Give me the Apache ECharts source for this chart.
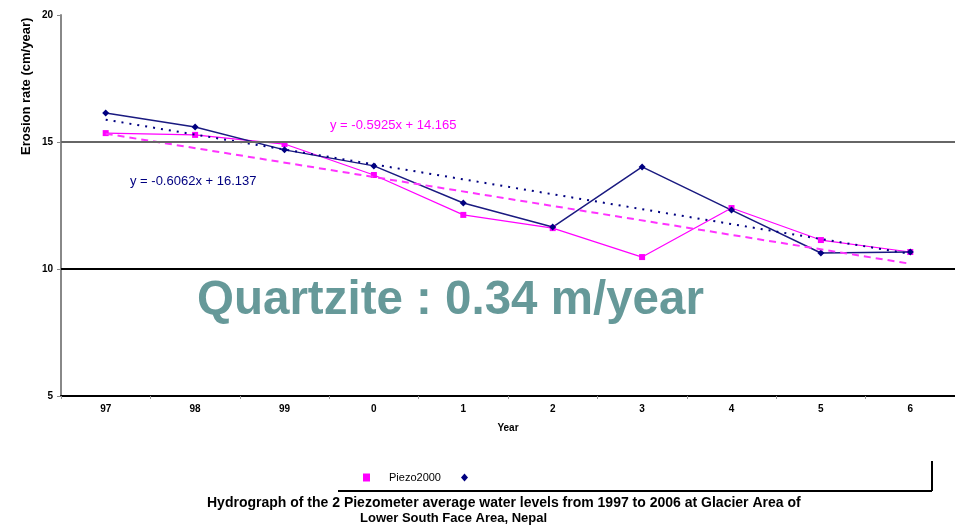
<!DOCTYPE html>
<html><head><meta charset="utf-8">
<script src="https://cdn.jsdelivr.net/npm/echarts@6/dist/echarts.min.js"></script>
<style>html,body{margin:0;padding:0;background:#fff}#c{width:955px;height:525px}</style>
</head><body><div id="c"></div>
<script>
var years = ['97','98','99','0','1','2','3','4','5','6'];
var pinkValues = [15.35,15.28,14.92,13.70,12.13,11.61,10.47,12.40,11.14,10.67];
var blueValues = [16.14,15.59,14.69,14.06,12.60,11.65,14.02,12.32,10.63,10.67];
var yTicks = [5,10,15,20];
var pinkName = 'Piezo2000';
var blueName = ' ';
var pinkEq = 'y = -0.5925x + 14.165';
var blueEq = 'y = -0.6062x + 16.137';

function fit(v){
  var n=v.length,sx=0,sy=0,sxy=0,sxx=0;
  for(var i=0;i<n;i++){sx+=i;sy+=v[i];sxy+=i*v[i];sxx+=i*i;}
  var b=(n*sxy-sx*sy)/(n*sxx-sx*sx), a=(sy-b*sx)/n;
  return [[{coord:[0,a]},{coord:[n-1,a+b*(n-1)]}]];
}
var chart = echarts.init(document.getElementById('c'));
var FF = 'Liberation Sans, Arial, sans-serif';
var bold = {fontFamily:FF,fontWeight:'bold',fontSize:10,color:'#000'};
chart.setOption({
  animation:false,
  grid:{left:61,right:-6,top:15,bottom:129},
  xAxis:{type:'category',data:years,boundaryGap:true,
    name:'Year',nameLocation:'middle',nameGap:27,nameTextStyle:bold,
    axisLine:{lineStyle:{color:'#000',width:2}},
    axisTick:{show:true,length:3,lineStyle:{color:'#999'}},
    axisLabel:Object.assign({margin:8},bold)},
  yAxis:{type:'value',min:yTicks[0],max:yTicks[3],interval:5,
    name:'Erosion rate (cm/year)',nameLocation:'end',nameRotate:90,nameGap:-140,
    nameTextStyle:Object.assign({},bold,{fontSize:13,padding:[0,0,28,0],align:'left',verticalAlign:'bottom'}),
    axisLine:{show:true,lineStyle:{color:'#888',width:2}},
    axisTick:{show:true,length:4,lineStyle:{color:'#888'}},
    splitLine:{show:false},
    axisLabel:Object.assign({margin:8},bold)},
  legend:{left:358,top:467,itemWidth:7,itemHeight:8,itemGap:20,
    textStyle:{fontFamily:FF,fontSize:11,color:'#000',padding:[0,0,0,14]},
    data:[{name:pinkName,icon:'rect'},{name:blueName,icon:'diamond'}]},
  series:[
    {name:pinkName,type:'line',data:pinkValues,symbol:'rect',symbolSize:6,
      itemStyle:{color:'#ff00ff'},lineStyle:{color:'#ff00ff',width:1.2},
      markLine:{silent:true,symbol:'none',label:{show:false},
        lineStyle:{color:'#ff33ff',type:[7,5],width:2},data:fit(pinkValues)}},
    {name:blueName,type:'line',data:blueValues,symbol:'diamond',symbolSize:7,
      itemStyle:{color:'#000080'},lineStyle:{color:'#1a1a80',width:1.5},
      markLine:{silent:true,symbol:'none',label:{show:false},
        lineStyle:{color:'#000080',type:[2,6],width:2},data:fit(blueValues)}},
    {type:'line',data:[],markLine:{silent:true,symbol:'none',label:{show:false},
      data:[{yAxis:yTicks[2],lineStyle:{color:'#666',width:2,type:'solid'}},
            {yAxis:yTicks[1],lineStyle:{color:'#000',width:2,type:'solid'}}]}}
  ],
  graphic:[
    {type:'text',left:330,top:119,style:{text:pinkEq,fill:'#ff00ff',font:'13px '+FF}},
    {type:'text',left:130,top:175,style:{text:blueEq,fill:'#000080',font:'13px '+FF}},
    {type:'text',left:197,top:277,style:{text:'Quartzite : 0.34 m/year',fill:'#669999',font:'bold 47.5px '+FF}},
    {type:'line',shape:{x1:338,y1:491,x2:932,y2:491},style:{stroke:'#000',lineWidth:2}},
    {type:'line',shape:{x1:932,y1:461,x2:932,y2:491},style:{stroke:'#000',lineWidth:2}},
    {type:'text',left:207,top:496,style:{text:'Hydrograph of the 2 Piezometer average water levels from 1997 to 2006 at Glacier Area of',fill:'#000',font:'bold 14px '+FF}},
    {type:'text',left:360,top:512,style:{text:'Lower South Face Area, Nepal',fill:'#000',font:'bold 13px '+FF}}
  ]
});
</script></body></html>
